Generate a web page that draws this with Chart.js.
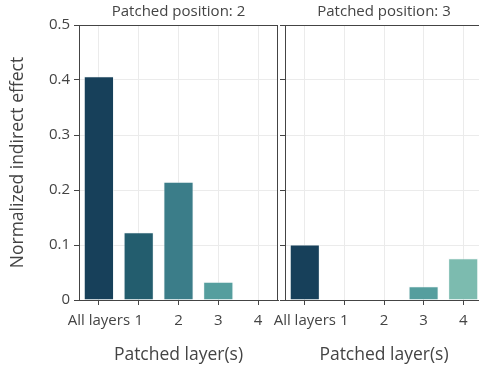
<!DOCTYPE html>
<html>
<head>
<meta charset="utf-8">
<script src="https://cdn.jsdelivr.net/npm/chart.js@4/dist/chart.umd.min.js"></script>
<style>
    html, body { margin: 0; padding: 0; background: #fff; overflow: hidden; }
    body { width: 479px; height: 368px; position: relative; }
    .facet { position: absolute; top: 0; }
    #facet-1 { left: 0; }
    #facet-2 { left: 250px; }
</style>
</head>
<body>
<canvas id="facet-1" class="facet" width="279" height="368"></canvas>
<canvas id="facet-2" class="facet" width="239" height="368"></canvas>
<script>
const categories = ['All layers', '1', '2', '3', '4']
const position2Values = [0.407, 0.123, 0.215, 0.033, 0]
const position3Values = [0.101, 0, 0, 0.025, 0.076]
const barColors = ['#17405A', '#235D6E', '#3B7D89', '#559E9E', '#7CBBAF']
const yTicks = [0, 0.1, 0.2, 0.3, 0.4, 0.5]

const textColor = '#444'
const gridColor = '#ebebeb'
const family = '"Open Sans", "Noto Sans", sans-serif'

// top/right frame lines around the plot area, like the facet boxes in the reference
const framePlugin = {
    id: 'frame',
    afterDraw: chart => {
        const { ctx, chartArea } = chart
        ctx.save()
        ctx.strokeStyle = textColor
        ctx.lineWidth = 1
        ctx.beginPath()
        ctx.moveTo(chartArea.left, chartArea.top + 0.5)
        ctx.lineTo(chartArea.right, chartArea.top + 0.5)
        ctx.moveTo(chartArea.right - 0.5, chartArea.top)
        ctx.lineTo(chartArea.right - 0.5, chartArea.bottom)
        ctx.stroke()
        ctx.restore()
    }
}

const makeFacet = (canvas, title, values, showYLabels, yWidth, padRight) => new Chart(canvas, {
    type: 'bar',
    data: {
        labels: categories,
        datasets: [{
            data: values,
            backgroundColor: barColors,
            borderColor: 'rgba(240, 245, 245, 0.55)',
            borderWidth: 1,
            barPercentage: 0.76,
            categoryPercentage: 1
        }]
    },
    options: {
        responsive: false,
        animation: false,
        layout: { autoPadding: false, padding: { left: 0, right: padRight, top: 0, bottom: 0 } },
        plugins: {
            legend: { display: false },
            tooltip: { enabled: false },
            title: {
                display: true,
                text: title,
                fullSize: false,
                color: textColor,
                font: { family, size: 15, weight: 'normal' },
                padding: { top: 3, bottom: 4 }
            }
        },
        scales: {
            x: {
                grid: { offset: false, color: gridColor, tickColor: textColor, tickLength: 5 },
                border: { color: textColor, width: 1 },
                ticks: { color: textColor, font: { family, size: 15 }, padding: 7, maxRotation: 0, autoSkip: false },
                title: {
                    display: true,
                    text: 'Patched layer(s)',
                    color: textColor,
                    font: { family, size: 17.5 },
                    padding: { top: 0, bottom: 2 }
                },
                afterFit: scale => {
                    scale.height = 68
                    // let the "All layers" label hang over the left edge, as in the reference
                    scale.paddingLeft = 0
                    scale.paddingRight = 0
                }
            },
            y: {
                min: 0,
                max: 0.5,
                afterBuildTicks: scale => { scale.ticks = yTicks.map(value => ({ value })) },
                grid: { color: gridColor, tickColor: textColor, tickLength: 5 },
                border: { color: textColor, width: 1 },
                ticks: { display: showYLabels, color: textColor, font: { family, size: 15 }, padding: 4 },
                title: {
                    display: showYLabels,
                    text: 'Normalized indirect effect',
                    color: textColor,
                    font: { family, size: 17.5 },
                    padding: { top: 8, bottom: 0 }
                },
                afterFit: scale => { scale.width = yWidth }
            }
        }
    },
    plugins: [framePlugin]
})

makeFacet(document.querySelector('#facet-1'), 'Patched position: 2', position2Values, true, 79, 1)
makeFacet(document.querySelector('#facet-2'), 'Patched position: 3', position3Values, false, 35, 6)
</script>
</body>
</html>
